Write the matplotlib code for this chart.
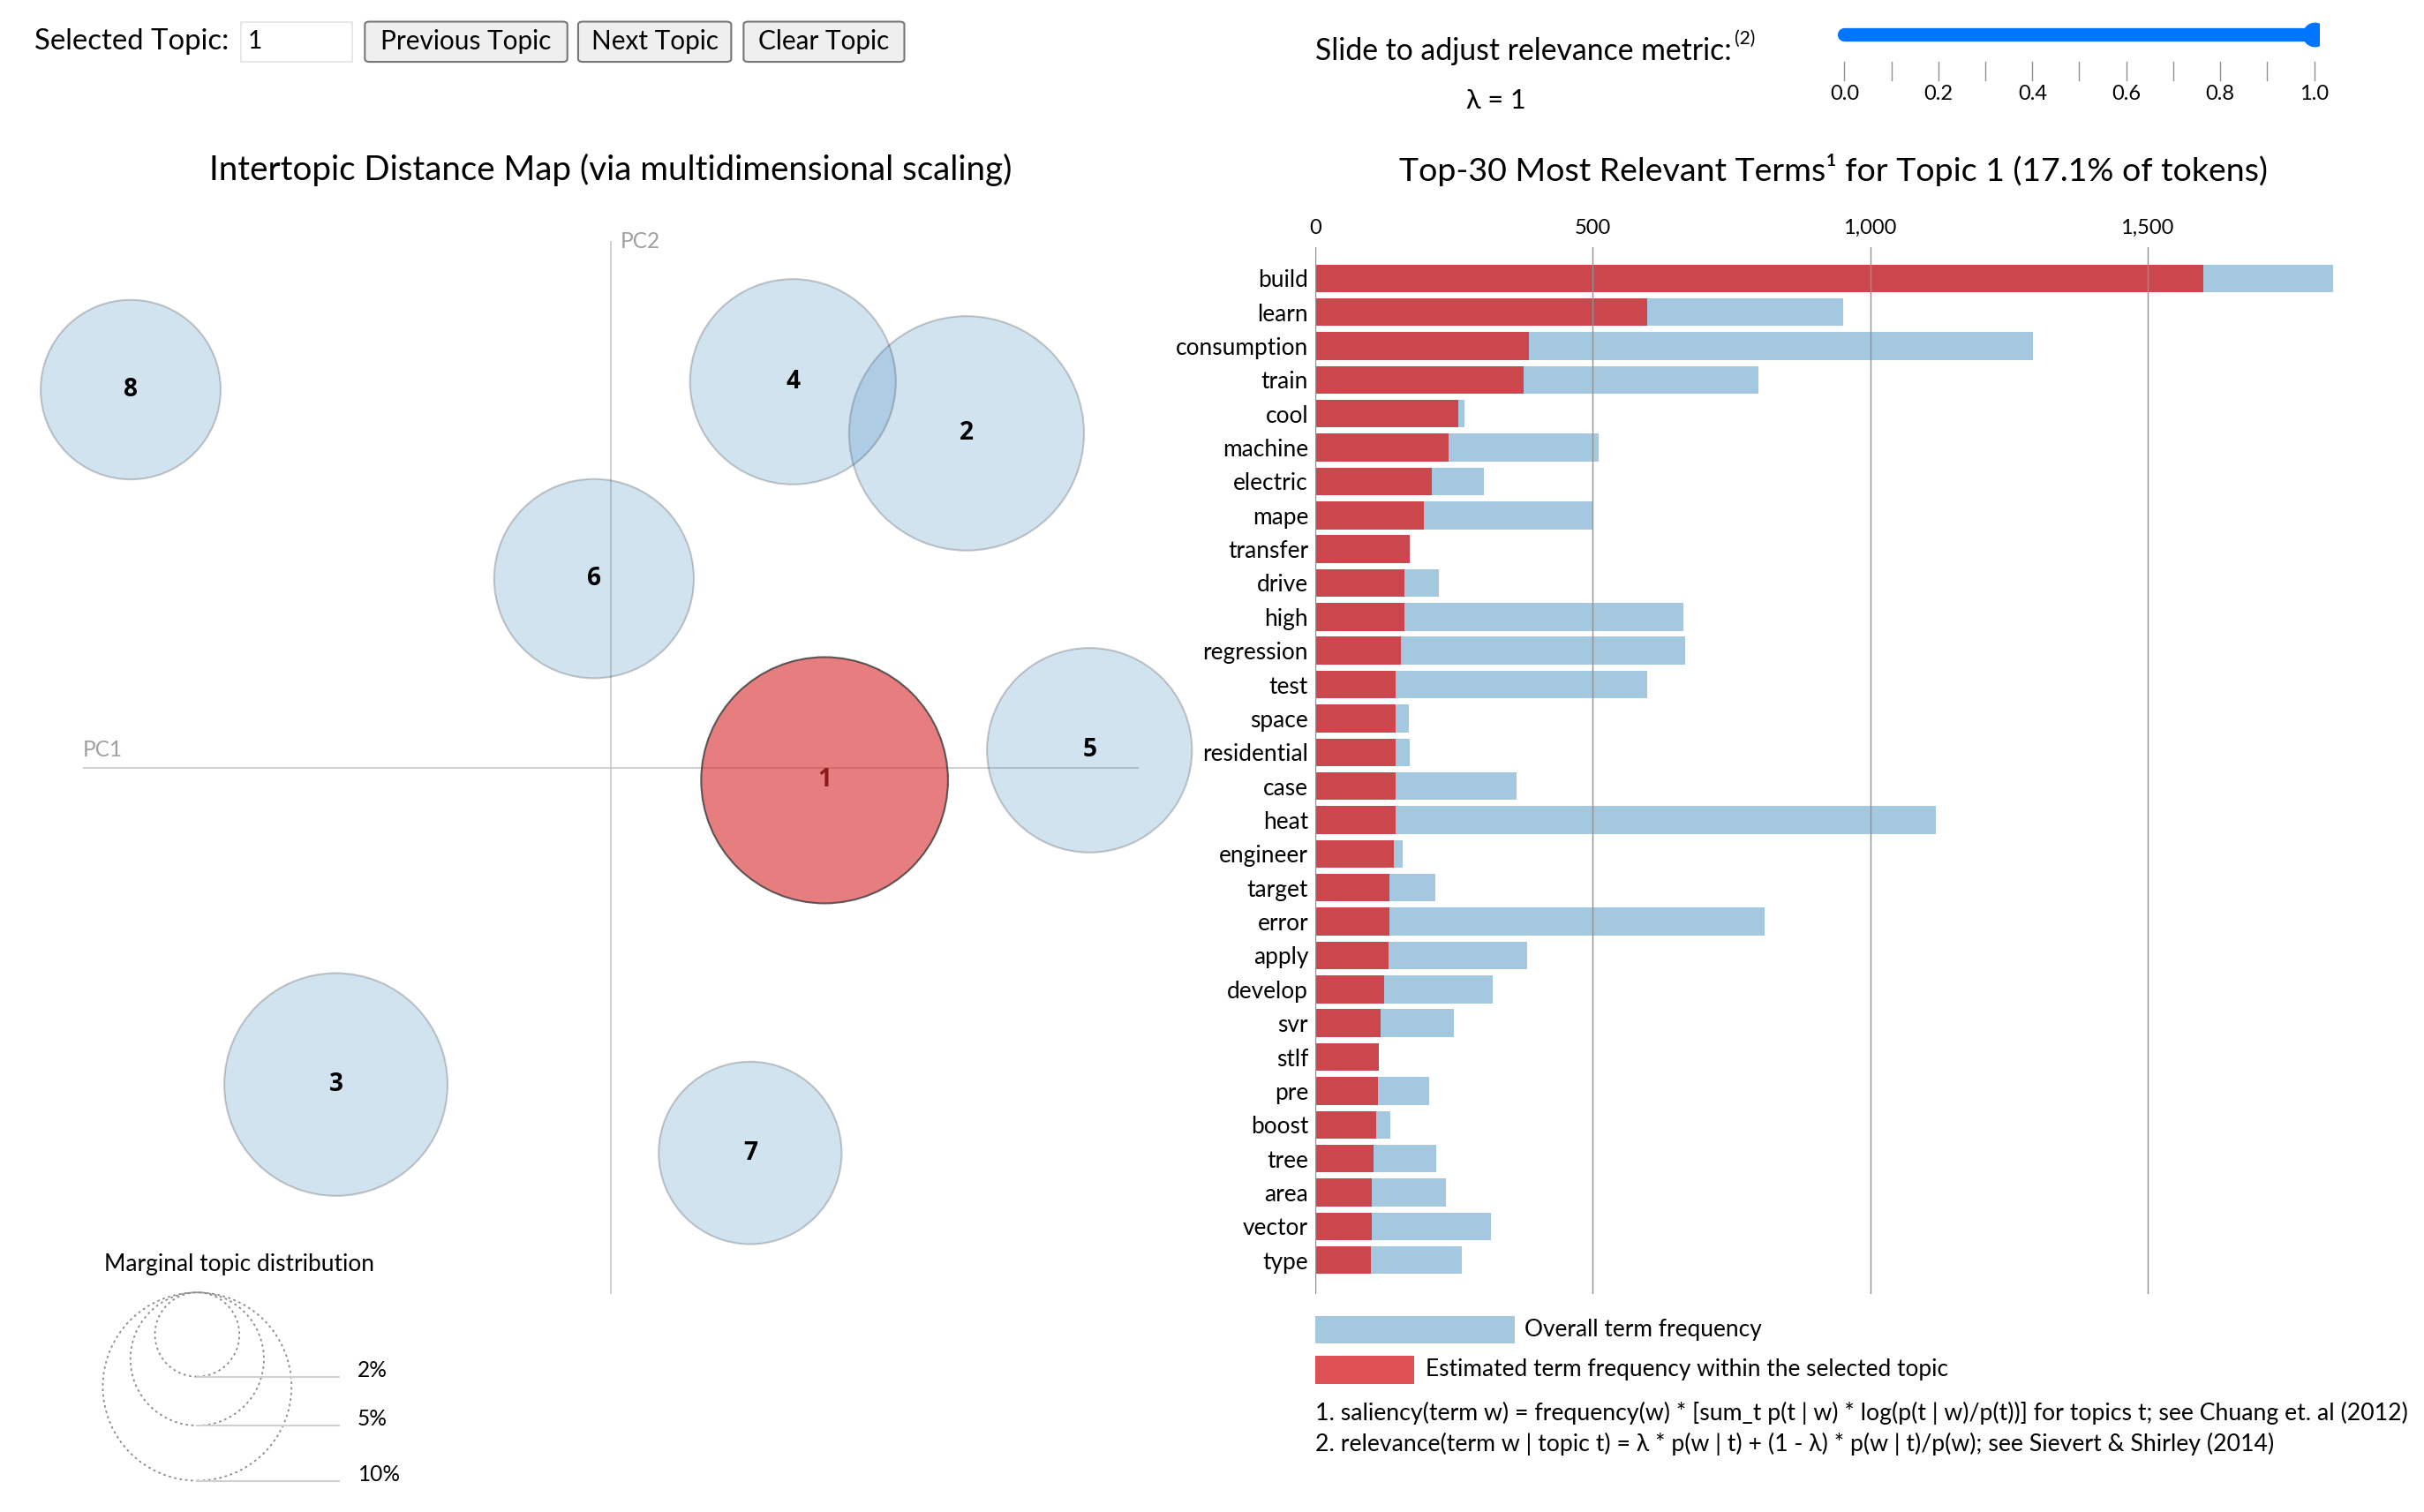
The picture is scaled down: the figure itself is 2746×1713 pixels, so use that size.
import matplotlib
matplotlib.use('Agg')
import matplotlib.pyplot as plt
from matplotlib.patches import Circle, FancyBboxPatch, Rectangle
from matplotlib.ticker import FuncFormatter

plt.rcParams['font.family'] = ['Lato', 'DejaVu Sans']

# --- data -------------------------------------------------------------
topic_ids = [1, 2, 3, 4, 5, 6, 7, 8]
topic_x = [0.405, 0.674, -0.521, 0.345, 0.907, -0.032, 0.264, -0.910]
topic_y = [-0.024, 0.635, -0.602, 0.733, 0.033, 0.359, -0.732, 0.718]
topic_pct = [17.1, 15.5, 14.0, 11.9, 11.8, 11.2, 9.4, 9.1]
selected = 1
legend_pct = [2, 5, 10]

terms = ['build', 'learn', 'consumption', 'train', 'cool', 'machine', 'electric',
         'mape', 'transfer', 'drive', 'high', 'regression', 'test', 'space',
         'residential', 'case', 'heat', 'engineer', 'target', 'error', 'apply',
         'develop', 'svr', 'stlf', 'pre', 'boost', 'tree', 'area', 'vector', 'type']
overall = [1835, 952, 1294, 799, 268, 511, 304, 501, 170, 223, 664, 667, 598, 169,
           170, 363, 1119, 157, 216, 810, 381, 320, 250, 114, 205, 134, 217, 235,
           317, 263]
in_topic = [1601, 598, 384, 375, 257, 240, 210, 195, 170, 160, 160, 154, 145, 144,
            144, 144, 144, 141, 133, 133, 132, 123, 117, 114, 113, 110, 104, 101,
            101, 99]
xticks = [0, 500, 1000, 1500]
slider_ticks = [0.0, 0.1, 0.2, 0.3, 0.4, 0.5, 0.6, 0.7, 0.8, 0.9, 1.0]
lam = 1

W, H = 1568.0, 978.0          # layout grid (screenshot pixels)
def fx(x): return x / W
def fy(y): return 1 - y / H
def fs(d): return d * 1.261   # screenshot px -> pt

fig = plt.figure(figsize=(27.46, 17.13), dpi=100)
fig.patch.set_facecolor('white')

# --- top controls -----------------------------------------------------
fig.text(fx(22), fy(27), 'Selected Topic:', fontsize=fs(18.8), va='center', ha='left')
box = FancyBboxPatch((fx(156), fy(40)), fx(72), 26 / H, boxstyle='square,pad=0',
                     transform=fig.transFigure, fc='white', ec='#e4e4e4', lw=1.2)
fig.patches.append(box)
fig.text(fx(160), fy(27), str(selected), fontsize=fs(16), va='center', ha='left')
for label, x0, x1 in [('Previous Topic', 236, 367), ('Next Topic', 374, 473),
                      ('Clear Topic', 481, 585)]:
    b = FancyBboxPatch((fx(x0), fy(40)), fx(x1 - x0), 26 / H,
                       boxstyle='round,pad=0,rounding_size=0.002',
                       transform=fig.transFigure, fc='#efefef', ec='#767676', lw=1.5)
    fig.patches.append(b)
    fig.text(fx((x0 + x1) / 2), fy(27), label, fontsize=fs(17), va='center', ha='center')

fig.text(fx(851), fy(33), 'Slide to adjust relevance metric:', fontsize=fs(19.3),
         va='center', ha='left')
fig.text(fx(1122), fy(25), '(2)', fontsize=fs(12), va='center', ha='left')
fig.text(fx(968), fy(65), '\u03bb = %d' % lam, fontsize=fs(17.5), va='center', ha='center')

sl = fig.add_axes([fx(1185), fy(70), fx(1500 - 1185), 62 / H])
sl.set_ylim(70, 8)
sl.axis('off')
sl.plot([0, lam], [22, 22], color='#0075ff', lw=11, solid_capstyle='round')
sl.plot([lam], [22], 'o', color='#0075ff', ms=19)
for t in slider_ticks:
    sl.plot([t, t], [40, 52], color='#909090', lw=1)
for t in slider_ticks[::2]:
    sl.text(t, 61, '%.1f' % t, fontsize=fs(13.5), ha='center', va='center')
sl.set_xlim(-0.0265, 1.0100)

# --- intertopic distance map ------------------------------------------
fig.text(fx(395), fy(110), 'Intertopic Distance Map (via multidimensional scaling)',
         fontsize=fs(22), ha='center', va='center')
ax = fig.add_axes([fx(53.8), fy(837), fx(736.5 - 53.8), (837 - 156) / H])
ax.set_xlim(-1, 1)
ax.set_ylim(-1, 1)
ax.axis('off')
ax.plot([-1, 1], [0, 0], color='#c8c8c8', lw=1.2, zorder=0)
ax.plot([0, 0], [-1, 1], color='#c8c8c8', lw=1.2, zorder=0)
ax.text(-1, 0.015, 'PC1', color='#a0a0a0', fontsize=fs(14), ha='left', va='bottom')
ax.text(0.018, 1, 'PC2', color='#a0a0a0', fontsize=fs(14), ha='left', va='center')

k = 0.05655
num_font = ['Open Sans', 'DejaVu Sans']
for tid, x, y, p in zip(topic_ids, topic_x, topic_y, topic_pct):
    r = k * p ** 0.5
    if tid == selected:
        ax.add_patch(Circle((x, y), r, fc='#d62728', ec='none', alpha=0.6, clip_on=False, zorder=2))
        ax.add_patch(Circle((x, y), r, fc='none', ec='#3a3a3a', lw=1.5, alpha=0.8,
                            clip_on=False, zorder=3))
        ax.text(x, y, str(tid), color='#8b1a1a', fontsize=fs(16), fontweight='bold',
                family=num_font, ha='center', va='center', zorder=4)
    else:
        ax.add_patch(Circle((x, y), r, fc='#1f77b4', ec='#000000', lw=1.5, alpha=0.2,
                            clip_on=False, zorder=2))
        ax.text(x, y, str(tid), color='black', fontsize=fs(16), fontweight='bold',
                family=num_font, ha='center', va='center', zorder=4)

# marginal topic distribution legend
lx, ltop = -0.784, -0.997
ax.text(-0.96, -0.944, 'Marginal topic distribution', fontsize=fs(15),
        ha='left', va='center', clip_on=False)
for p in legend_pct:
    r = k * p ** 0.5
    ax.add_patch(Circle((lx, ltop - r), r, fc='none', ec='#8c8c8c', lw=1.3,
                        ls=(0, (1.5, 2)), clip_on=False))
    ax.plot([lx, -0.516], [ltop - 2 * r, ltop - 2 * r], color='#d0d0d0', lw=1.5,
            clip_on=False)
    ax.text(-0.48, ltop - 2 * r + 0.012, '%d%%' % p, fontsize=fs(14), ha='left',
            va='center', clip_on=False)

# --- top-30 terms bar chart -------------------------------------------
fig.text(fx(905), fy(110), 'Top-30 Most Relevant Terms\u00b9 for Topic %d (%.1f%% of tokens)'
         % (selected, topic_pct[0]), fontsize=fs(21.4), ha='left', va='center')
px_per = 0.3587
bx = fig.add_axes([fx(851), fy(837), fx(1530 - 851), (837 - 160) / H])
bx.set_xlim(0, (1530 - 851) / px_per)
bx.set_ylim(30.0, -0.913)
pos = list(range(len(terms)))
bx.barh(pos, overall, height=0.82, color='#1f77b4', alpha=0.4, lw=0, zorder=1)
bx.barh(pos, in_topic, height=0.82, color='#d62728', alpha=0.8, lw=0, zorder=2)
bx.set_yticks(pos)
bx.set_yticklabels(terms, fontsize=fs(15))
bx.tick_params(axis='y', length=0, pad=6)
bx.xaxis.tick_top()
bx.set_xticks(xticks)
bx.xaxis.set_major_formatter(FuncFormatter(lambda v, _: format(int(v), ',')))
bx.tick_params(axis='x', length=0, pad=8, labelsize=fs(13.5))
for v in xticks:
    bx.axvline(v, color='#909090', lw=1.0, zorder=3)
for s in bx.spines.values():
    s.set_visible(False)

# legend and footnotes
fig.patches.append(Rectangle((fx(851), fy(869)), fx(129), 18 / H, transform=fig.transFigure,
                             fc='#1f77b4', alpha=0.4, ec='none'))
fig.text(fx(986), fy(860), 'Overall term frequency', fontsize=fs(15), va='center')
fig.patches.append(Rectangle((fx(851), fy(895)), fx(64), 18 / H, transform=fig.transFigure,
                             fc='#d62728', alpha=0.8, ec='none'))
fig.text(fx(922), fy(886), 'Estimated term frequency within the selected topic',
         fontsize=fs(15), va='center')
fig.text(fx(851), fy(914), '1. saliency(term w) = frequency(w) * [sum_t p(t | w) * '
         'log(p(t | w)/p(t))] for topics t; see Chuang et. al (2012)', fontsize=fs(15.2),
         va='center')
fig.text(fx(851), fy(934), '2. relevance(term w | topic t) = \u03bb * p(w | t) + '
         '(1 - \u03bb) * p(w | t)/p(w); see Sievert & Shirley (2014)', fontsize=fs(15.2),
         va='center')

fig.savefig('out.png', dpi=100)
